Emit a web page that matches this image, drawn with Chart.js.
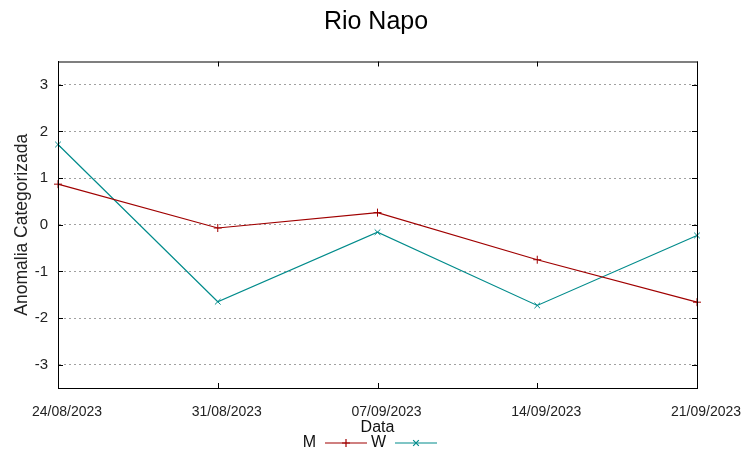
<!DOCTYPE html>
<html><head><meta charset="utf-8">
<script src="https://cdn.jsdelivr.net/npm/chart.js@4.4.0/dist/chart.umd.min.js"></script>
<style>html,body{margin:0;padding:0;background:#fff}#wrap{width:752px;height:458px}</style>
</head><body><div id="wrap"><canvas id="c" width="752" height="458"></canvas></div>
<script>
const categories = ['24/08/2023','31/08/2023','07/09/2023','14/09/2023','21/09/2023'];
const seriesM = [0.87, -0.07, 0.26, -0.75, -1.66];
const seriesW = [1.72, -1.65, -0.16, -1.73, -0.23];
const yTickValues = [-3, -2, -1, 0, 1, 2, 3];
const seriesNames = ['M', 'W'];
const seriesColors = ['#a00000', '#008b8b'];
const seriesPoints = ['cross', 'crossRot'];
const chartTitle = 'Rio Napo';
const xTitle = 'Data';
const yTitle = 'Anomalia Categorizada';

const FONT = "'Liberation Sans', Arial, sans-serif";

const framePlugin = {
  id: 'frame',
  afterDatasetsDraw(chart) {
    const {ctx, chartArea: a, scales} = chart;
    ctx.save();
    ctx.strokeStyle = '#000';
    ctx.lineWidth = 1;
    ctx.strokeRect(a.left + 0.5, a.top + 0.5, a.right - a.left, a.bottom - a.top);
    ctx.beginPath();
    const tl = 5;
    scales.x.ticks.forEach((t, i) => {
      const x = Math.round(scales.x.getPixelForTick(i)) + 0.5;
      ctx.moveTo(x, a.top); ctx.lineTo(x, a.top + tl);
      ctx.moveTo(x, a.bottom); ctx.lineTo(x, a.bottom - tl);
    });
    scales.y.ticks.forEach(t => {
      const y = Math.round(scales.y.getPixelForValue(t.value)) + 0.5;
      ctx.moveTo(a.left, y); ctx.lineTo(a.left + tl, y);
      ctx.moveTo(a.right, y); ctx.lineTo(a.right - tl, y);
    });
    ctx.stroke();
    ctx.restore();
  },
  afterDraw(chart) {
    const {ctx} = chart;
    ctx.save();
    ctx.font = '16px ' + FONT;
    ctx.textBaseline = 'middle';
    ctx.textAlign = 'right';
    const ly = 443;
    const items = [{tx: 316, x0: 325, x1: 367}, {tx: 386, x0: 395, x1: 437}];
    items.forEach((it, i) => {
      ctx.fillStyle = '#111';
      ctx.fillText(seriesNames[i], it.tx, ly);
      ctx.strokeStyle = seriesColors[i];
      ctx.lineWidth = 1.2;
      ctx.beginPath();
      ctx.moveTo(it.x0, ly); ctx.lineTo(it.x1, ly);
      ctx.stroke();
      Chart.helpers.drawPoint(ctx, {pointStyle: seriesPoints[i], radius: 4, borderWidth: 1}, (it.x0 + it.x1) / 2, ly);
    });
    ctx.restore();
  }
};

new Chart(document.getElementById('c'), {
  type: 'line',
  data: {
    labels: categories,
    datasets: [seriesM, seriesW].map((d, i) => ({
      label: seriesNames[i],
      data: d,
      borderColor: seriesColors[i],
      backgroundColor: seriesColors[i],
      borderWidth: 1.2,
      pointStyle: seriesPoints[i],
      pointRadius: 4,
      pointBorderWidth: 1,
      tension: 0,
      fill: false,
      clip: false
    }))
  },
  options: {
    responsive: false,
    animation: false,
    devicePixelRatio: 1,
    layout: {padding: {left: 0, right: 0, top: 0, bottom: 0}},
    plugins: {
      legend: {display: false},
      tooltip: {enabled: false},
      title: {
        display: true, text: chartTitle, color: '#000',
        font: {family: FONT, size: 25, weight: 'normal', lineHeight: 1.2},
        padding: {top: 7, bottom: 24.5}
      }
    },
    scales: {
      x: {
        type: 'category',
        offset: false,
        grid: {display: false, drawTicks: false},
        border: {display: true, color: '#000', width: 1},
        ticks: {color: '#222', font: {family: FONT, size: 14}, padding: 16, labelOffset: 9, maxRotation: 0, autoSkip: false},
        title: {display: true, text: xTitle, color: '#111', font: {family: FONT, size: 16, lineHeight: 1.2}, padding: {top: 0, bottom: 20.4}},
        afterFit(s) { s.height = 70; }
      },
      y: {
        min: -3.5, max: 3.5,
        afterBuildTicks(s) { s.ticks = yTickValues.map(v => ({value: v})); },
        grid: {color: '#a0a0a0', lineWidth: 1, drawTicks: false},
        border: {display: true, color: '#000', width: 1, dash: [2, 3]},
        ticks: {color: '#222', font: {family: FONT, size: 15}, padding: 10},
        title: {display: true, text: yTitle, color: '#222', font: {family: FONT, size: 17.5, lineHeight: 1.2}, padding: {top: 12, bottom: 0}},
        afterFit(s) { s.width = 58; }
      },
      yRight: {
        position: 'right',
        display: true,
        grid: {display: false, drawTicks: false},
        border: {display: false},
        ticks: {display: false},
        afterFit(s) { s.width = 55; }
      }
    }
  },
  plugins: [framePlugin]
});
</script>
</body></html>
